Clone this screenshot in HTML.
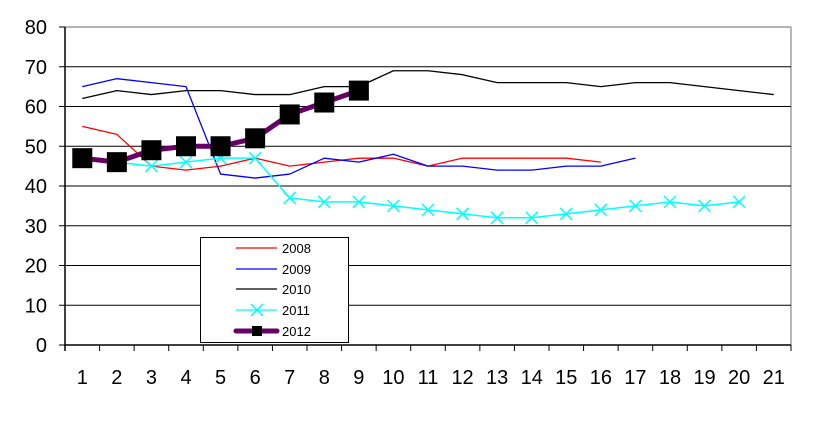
<!DOCTYPE html>
<html><head><meta charset="utf-8"><style>
html,body{margin:0;padding:0;background:#fff;width:829px;height:436px;overflow:hidden}
svg text{font-family:"Liberation Sans",Arial,sans-serif;fill:#000}
</style></head><body>
<svg id="s" width="829" height="436" xmlns="http://www.w3.org/2000/svg"></svg>
<script>
const s=document.getElementById('s');
const L=65,R=791,T=27,B=345,n=21,cw=(R-L)/n,ys=(B-T)/80;
const X=i=>L+cw*(i-0.5), Y=v=>B-v*ys;
let h='';
h+=`<line x1="${L}" y1="${T}" x2="${R}" y2="${T}" stroke="#888" stroke-width="1.2"/>`;
h+=`<line x1="${R}" y1="${T}" x2="${R}" y2="${B}" stroke="#888" stroke-width="1.2"/>`;
for(let v=10;v<80;v+=10)h+=`<line x1="${L}" y1="${Y(v)}" x2="${R}" y2="${Y(v)}" stroke="#000" stroke-width="1"/>`;
for(let v=0;v<=80;v+=10){h+=`<line x1="${L-6}" y1="${Y(v)}" x2="${L}" y2="${Y(v)}" stroke="#000"/>`;h+=`<text x="47" y="${Y(v)+7}" font-size="20" text-anchor="end">${v}</text>`;}
h+=`<line x1="${L}" y1="${T}" x2="${L}" y2="${B+6}" stroke="#000" stroke-width="1.5"/>`;
h+=`<line x1="${L}" y1="${B}" x2="${R}" y2="${B}" stroke="#000" stroke-width="1.5"/>`;
for(let i=0;i<=n;i++)h+=`<line x1="${L+cw*i}" y1="${B}" x2="${L+cw*i}" y2="${B+6}" stroke="#000"/>`;
for(let i=1;i<=n;i++)h+=`<text x="${X(i)}" y="384" font-size="20" text-anchor="middle">${i}</text>`;
const pl=(d,st,w,st0=1)=>`<polyline fill="none" stroke="${st}" stroke-width="${w}" stroke-linejoin="round" points="${d.map((v,k)=>X(k+st0)+','+Y(v)).join(' ')}"/>`;
h+=pl([55,53,45,44,45,47,45,46,47,47,45,47,47,47,47,46],'#f00',1.3);
h+=pl([65,67,66,65,43,42,43,47,46,48,45,45,44,44,45,45,47],'#00f',1.3);
h+=pl([62,64,63,64,64,63,63,65,65,69,69,68,66,66,66,65,66,66,65,64,63],'#000',1.3);
const c=[47,46,45,46,47,47,37,36,36,35,34,33,32,32,33,34,35,36,35,36];
h+=pl(c,'#0ff',1.5);
const xm=(x,y)=>`<path d="M${x-6},${y-6}L${x+6},${y+6}M${x-6},${y+6}L${x+6},${y-6}" stroke="#0ff" stroke-width="1.5"/>`;
c.forEach((v,k)=>h+=xm(X(k+1),Y(v)));
const p=[47,46,49,50,50,52,58,61,64];
h+=pl(p,'#660066',5);
p.forEach((v,k)=>h+=`<rect x="${X(k+1)-10}" y="${Y(v)-10}" width="20" height="20" fill="#000"/>`);
// legend
h+=`<rect x="200.5" y="237.5" width="148" height="105" fill="#fff" stroke="#000" stroke-width="1"/>`;
const ly=[248,269,289,310,331],nm=['2008','2009','2010','2011','2012'],cl=['#f00','#00f','#000','#0ff','#660066'];
ly.forEach((y,k)=>{h+=`<line x1="236" y1="${y}" x2="277" y2="${y}" stroke="${cl[k]}" stroke-width="${k==4?5:1.3}" stroke-linecap="${k==4?'round':'butt'}"/>`;h+=`<text x="282" y="${y+5}" font-size="13">${nm[k]}</text>`;});
h+=xm(257,310);
h+=`<rect x="252" y="326" width="10" height="10" fill="#000"/>`;
s.innerHTML=h;
</script>
</body></html>
